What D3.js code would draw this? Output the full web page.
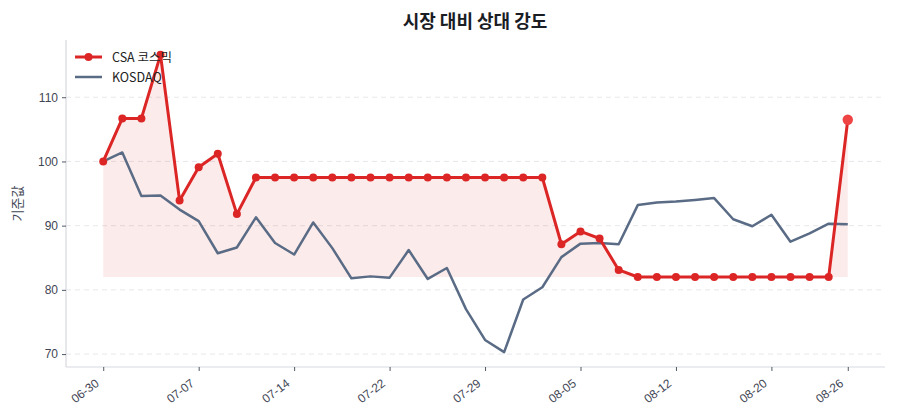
<!DOCTYPE html>
<html>
<head>
<meta charset="utf-8">
<script src="https://cdn.jsdelivr.net/npm/d3@7"></script>
<style>
  html, body { margin: 0; padding: 0; background: #ffffff; }
  svg { display: block; font-family: "Noto Sans CJK KR", "Noto Sans", sans-serif; }
</style>
</head>
<body>
<svg id="chart" width="900" height="420"></svg>
<script>
const dates = [
  "06-30","07-01","07-02","07-03","07-04",
  "07-07","07-08","07-09","07-10","07-11",
  "07-14","07-15","07-16","07-17","07-18",
  "07-22","07-23","07-24","07-25","07-28",
  "07-29","07-30","07-31","08-01","08-04",
  "08-05","08-06","08-07","08-08","08-11",
  "08-12","08-13","08-14","08-18","08-19",
  "08-20","08-21","08-22","08-25","08-26"
];
const csaValues = [
  100, 106.7, 106.7, 116.6, 93.9,
  99.1, 101.2, 91.8, 97.5, 97.5,
  97.5, 97.5, 97.5, 97.5, 97.5,
  97.5, 97.5, 97.5, 97.5, 97.5,
  97.5, 97.5, 97.5, 97.5, 87.1,
  89.1, 88.0, 83.1, 82.0, 82.0,
  82.0, 82.0, 82.0, 82.0, 82.0,
  82.0, 82.0, 82.0, 82.0, 106.5
];
const kosdaqValues = [
  100, 101.4, 94.6, 94.7, 92.5,
  90.7, 85.7, 86.6, 91.3, 87.3,
  85.5, 90.5, 86.5, 81.8, 82.1,
  81.9, 86.2, 81.7, 83.4, 77.0,
  72.2, 70.3, 78.5, 80.4, 85.1,
  87.2, 87.3, 87.1, 93.2, 93.6,
  93.75, 94.0, 94.3, 91.0, 89.9,
  91.7, 87.5, 88.8, 90.3, 90.2
];
const xTickIndex = [0, 5, 10, 15, 20, 25, 30, 35, 39];
const yTicks = [70, 80, 90, 100, 110];
const seriesNames = ["CSA 코스믹", "KOSDAQ"];
const title = "시장 대비 상대 강도";
const yLabel = "기준값";

const svg = d3.select("#chart");
const margin = { left: 66, right: 15, top: 40, bottom: 53 };
const W = 900, H = 420;
const n = dates.length;

const allVals = csaValues.concat(kosdaqValues);
const yMin = d3.min(allVals), yMax = d3.max(allVals);
const yPad = (yMax - yMin) * 0.05;
const xPad = (n - 1) * 0.05;

const x = d3.scaleLinear().domain([-xPad, n - 1 + xPad]).range([margin.left, W - margin.right]);
const y = d3.scaleLinear().domain([yMin - yPad, yMax + yPad]).range([H - margin.bottom, margin.top]);

const red = "#dc2626";
const slate = "#5a6b85";
const axisColor = "#d5d9e0";
const textColor = "#3f4654";

// grid
svg.append("g").selectAll("line").data(yTicks).join("line")
  .attr("x1", margin.left).attr("x2", W - margin.right)
  .attr("y1", d => y(d)).attr("y2", d => y(d))
  .attr("stroke", "#e3e5e9").attr("stroke-width", 0.9).attr("stroke-dasharray", "5,4");

// fill between CSA and its min
const baseVal = d3.min(csaValues);
const area = d3.area()
  .x((d, i) => x(i))
  .y0(y(baseVal))
  .y1(d => y(d));
svg.append("path").datum(csaValues)
  .attr("d", area).attr("fill", red).attr("fill-opacity", 0.09);

// axes
const xAxis = d3.axisBottom(x).tickValues(xTickIndex).tickFormat(i => dates[i]).tickSize(4).tickSizeOuter(0);
const gx = svg.append("g").attr("transform", `translate(0,${H - margin.bottom})`).call(xAxis);
gx.select(".domain").attr("stroke", axisColor).attr("stroke-width", 1.2)
  .attr("d", `M${margin.left},0H${W - margin.right}`);
gx.selectAll(".tick line").attr("stroke", "#3f4654").attr("stroke-width", 0.9);
gx.selectAll(".tick text")
  .attr("fill", textColor).attr("font-size", 12)
  .attr("text-anchor", "end")
  .attr("x", 0).attr("y", 0).attr("dx", 0).attr("dy", 0)
  .attr("transform", "translate(-4,18) rotate(-37)");

const yAxis = d3.axisLeft(y).tickValues(yTicks).tickSize(4).tickSizeOuter(0).tickPadding(4);
const gy = svg.append("g").attr("transform", `translate(${margin.left},0)`).call(yAxis);
gy.select(".domain").attr("stroke", axisColor).attr("stroke-width", 1.2)
  .attr("d", `M0,${margin.top}V${H - margin.bottom}`);
gy.selectAll(".tick line").attr("stroke", "#3f4654").attr("stroke-width", 0.9);
gy.selectAll(".tick text").attr("fill", textColor).attr("font-size", 12);

// lines
const line = d3.line().x((d, i) => x(i)).y(d => y(d));
svg.append("path").datum(kosdaqValues).attr("d", line)
  .attr("fill", "none").attr("stroke", slate).attr("stroke-width", 2.5)
  .attr("stroke-linejoin", "round");
svg.append("path").datum(csaValues).attr("d", line)
  .attr("fill", "none").attr("stroke", red).attr("stroke-width", 3)
  .attr("stroke-linejoin", "round");

svg.append("g").selectAll("circle").data(csaValues.slice(0, n - 1)).join("circle")
  .attr("cx", (d, i) => x(i)).attr("cy", d => y(d)).attr("r", 4)
  .attr("fill", red);
svg.append("circle")
  .attr("cx", x(n - 1)).attr("cy", y(csaValues[n - 1])).attr("r", 5.2)
  .attr("fill", "#ef4444");

// title
svg.append("text").attr("x", 475).attr("y", 28)
  .attr("text-anchor", "middle").attr("font-size", 18).attr("font-weight", 700)
  .attr("fill", "#1a1d24").text(title);

// y label
svg.append("text")
  .attr("transform", `translate(22,${(margin.top + H - margin.bottom) / 2}) rotate(-90)`)
  .attr("text-anchor", "middle").attr("font-size", 13).attr("fill", textColor)
  .text(yLabel);

// legend
const lg = svg.append("g").attr("transform", "translate(75,57)");
lg.append("line").attr("x1", 0).attr("x2", 27).attr("y1", 0).attr("y2", 0)
  .attr("stroke", red).attr("stroke-width", 3);
lg.append("circle").attr("cx", 13.5).attr("cy", 0).attr("r", 4).attr("fill", red);
lg.append("text").attr("x", 37).attr("y", 4.5).attr("font-size", 12.5).attr("fill", "#222")
  .text(seriesNames[0]);
lg.append("line").attr("x1", 0).attr("x2", 27).attr("y1", 20).attr("y2", 20)
  .attr("stroke", slate).attr("stroke-width", 2.5);
lg.append("text").attr("x", 37).attr("y", 24.5).attr("font-size", 12.5).attr("fill", "#222")
  .text(seriesNames[1]);
</script>
</body>
</html>
